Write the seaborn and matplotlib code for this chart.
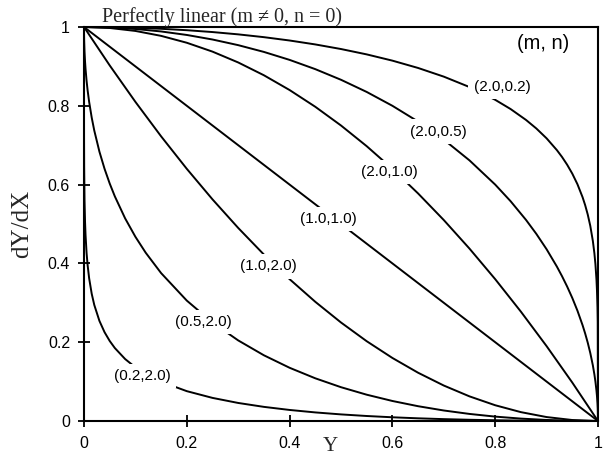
import matplotlib
matplotlib.use("Agg")
import matplotlib.pyplot as plt
import pandas as pd
import seaborn as sns

# Relative saturation Y: one sampling for curves that bend sharply near Y = 1,
# one evenly spaced, and one for curves that drop sharply near Y = 0
y_grid_high = [0, 0.05, 0.1, 0.15, 0.2, 0.25, 0.3, 0.35, 0.4, 0.45, 0.5, 0.55,
               0.6, 0.65, 0.7, 0.75, 0.8, 0.83, 0.86, 0.88, 0.9, 0.92, 0.93,
               0.94, 0.95, 0.96, 0.97, 0.975, 0.98, 0.985, 0.99, 0.993, 0.995,
               0.997, 0.998, 0.999, 0.9995, 1.0]
y_grid_mid = [0, 0.05, 0.1, 0.15, 0.2, 0.25, 0.3, 0.35, 0.4, 0.45, 0.5, 0.55,
              0.6, 0.65, 0.7, 0.75, 0.8, 0.85, 0.9, 0.95, 1.0]
y_grid_low = [0, 0.00001, 0.0001, 0.0003, 0.001, 0.002, 0.003, 0.005, 0.007,
              0.01, 0.015, 0.02, 0.03, 0.04, 0.05, 0.06, 0.08, 0.1, 0.12, 0.15,
              0.2, 0.25, 0.3, 0.35, 0.4, 0.45, 0.5, 0.55, 0.6, 0.65, 0.7, 0.75,
              0.8, 0.85, 0.9, 0.95, 1.0]

# dY/dX for each (m, n) pair
curve_2_02 = [1.0, 0.99950, 0.99799, 0.99546, 0.99187, 0.98717, 0.98131,
              0.97420, 0.96573, 0.95576, 0.94409, 0.93048, 0.91461, 0.89601,
              0.87400, 0.84761, 0.81519, 0.79174, 0.76406, 0.74246, 0.71740,
              0.68750, 0.67013, 0.65041, 0.62777, 0.60097, 0.56797, 0.54791,
              0.52427, 0.49520, 0.45685, 0.42552, 0.39790, 0.35934, 0.33139,
              0.28851, 0.25118, 0.0]
curve_2_05 = [1.0, 0.99875, 0.99499, 0.98869, 0.97980, 0.96825, 0.95394,
              0.93675, 0.91652, 0.89303, 0.86603, 0.83516, 0.8, 0.75993,
              0.71414, 0.66144, 0.6, 0.55776, 0.51029, 0.47497, 0.43589,
              0.39192, 0.36756, 0.34117, 0.31225, 0.28, 0.24310, 0.22220,
              0.19900, 0.17256, 0.14107, 0.11811, 0.09987, 0.07740, 0.06321,
              0.04471, 0.03162, 0.0]
curve_2_10 = [1.0, 0.9975, 0.99, 0.9775, 0.96, 0.9375, 0.91, 0.8775, 0.84,
              0.7975, 0.75, 0.6975, 0.64, 0.5775, 0.51, 0.4375, 0.36, 0.2775,
              0.19, 0.0975, 0.0]
curve_1_10 = [1.0, 0.95, 0.9, 0.85, 0.8, 0.75, 0.7, 0.65, 0.6, 0.55, 0.5, 0.45,
              0.4, 0.35, 0.3, 0.25, 0.2, 0.15, 0.1, 0.05, 0.0]
curve_1_20 = [1.0, 0.9025, 0.81, 0.7225, 0.64, 0.5625, 0.49, 0.4225, 0.36,
              0.3025, 0.25, 0.2025, 0.16, 0.1225, 0.09, 0.0625, 0.04, 0.0225,
              0.01, 0.0025, 0.0]
curve_05_20 = [1.0, 0.993685, 0.9801, 0.965659, 0.937754, 0.912557, 0.893455,
               0.863578, 0.839668, 0.81, 0.770051, 0.737157, 0.683590, 0.64,
               0.602786, 0.570102, 0.514315, 0.467544, 0.427180, 0.375404,
               0.305573, 0.25, 0.204555, 0.166784, 0.135089, 0.108359,
               0.085786, 0.066760, 0.050807, 0.037548, 0.026680, 0.017949,
               0.011146, 0.006091, 0.002633, 0.000641, 0.0]
curve_02_20 = [1.0, 0.81, 0.708141, 0.644111, 0.560718, 0.506177, 0.472087,
               0.426753, 0.396022, 0.362275, 0.322924, 0.294518, 0.254083,
               0.225334, 0.203148, 0.185176, 0.157277, 0.136193, 0.119447,
               0.099702, 0.075746, 0.058633, 0.045795, 0.035867, 0.028039,
               0.021786, 0.016757, 0.012700, 0.009432, 0.006813, 0.004740,
               0.003126, 0.001905, 0.001023, 0.000435, 0.000104, 0.0]
curve_linear = [1.0] * len(y_grid_mid)

series_names = ["(2.0,0.2)", "(2.0,0.5)", "(2.0,1.0)", "(1.0,1.0)",
                "(1.0,2.0)", "(0.5,2.0)", "(0.2,2.0)", "n = 0"]
series_grids = [y_grid_high, y_grid_high, y_grid_mid, y_grid_mid,
                y_grid_mid, y_grid_low, y_grid_low, y_grid_mid]
series_values = [curve_2_02, curve_2_05, curve_2_10, curve_1_10,
                 curve_1_20, curve_05_20, curve_02_20, curve_linear]

# Label anchor points (Y, dY/dX) for each curve annotation
label_x = [0.813, 0.689, 0.595, 0.475, 0.358, 0.232, 0.113]
label_y = [0.848, 0.734, 0.632, 0.513, 0.393, 0.251, 0.114]

x_ticks = [0, 0.2, 0.4, 0.6, 0.8, 1]
x_tick_labels = ["0", "0.2", "0.4", "0.6", "0.8", "1"]
y_ticks = [0, 0.2, 0.4, 0.6, 0.8, 1]
y_tick_labels = ["0", "0.2", "0.4", "0.6", "0.8", "1"]

rows = []
for name, grid, vals in zip(series_names, series_grids, series_values):
    for yv, dv in zip(grid, vals):
        rows.append({"Y": yv, "dYdX": dv, "curve": name})
df = pd.DataFrame(rows)

sns.set_theme(style="white")
plt.rcParams["font.family"] = ["Liberation Sans", "DejaVu Sans"]
serif = ["Liberation Serif", "DejaVu Serif"]

fig = plt.figure(figsize=(6.08, 4.57), dpi=100)
ax = fig.add_axes([84 / 608, 1 - 421 / 457, 514 / 608, 394 / 457])

sns.lineplot(data=df, x="Y", y="dYdX", hue="curve", units="curve",
             estimator=None, palette=["black"] * len(series_names),
             legend=False, linewidth=1.4, sort=False, ax=ax)
for line in ax.lines:
    line.set_clip_on(False)

ax.set_xlim(0, 1)
ax.set_ylim(0, 1)
ax.set_xticks(x_ticks)
ax.set_xticklabels(x_tick_labels)
ax.set_yticks(y_ticks)
ax.set_yticklabels(y_tick_labels)
ax.set_xlabel("")
ax.set_ylabel("")

for side in ["left", "right", "top", "bottom"]:
    ax.spines[side].set_visible(True)
    ax.spines[side].set_color("black")
    ax.spines[side].set_linewidth(1.5)

ax.tick_params(axis="both", which="both", direction="inout", length=8,
               width=1.3, colors="black", labelsize=11.5)
ax.tick_params(axis="x", pad=7, bottom=True, top=False)
ax.tick_params(axis="y", pad=6, left=True, right=False)

for name, lx, ly in zip(series_names, label_x, label_y):
    ax.text(lx, ly, name, ha="center", va="center", fontsize=11,
            color="black", zorder=5,
            bbox=dict(boxstyle="square,pad=0.35", facecolor="white",
                      edgecolor="none"))

ax.text(0.893, 0.957, "(m, n)", ha="center", va="center", fontsize=14.5,
        color="black")

ax.text(0.035, 1.012, "Perfectly linear (m \u2260 0, n = 0)",
        transform=ax.transAxes, ha="left", va="baseline", fontsize=14.5,
        family=serif)

fig.text(22 / 608, 1 - 224 / 457, "dY/dX", rotation=90, ha="center",
         va="center", fontsize=18, family=serif)
fig.text(330 / 608, 1 / 457, "Y", ha="center", va="bottom", fontsize=15,
         family=serif)

fig.savefig("out.png", dpi=100, facecolor="white")
